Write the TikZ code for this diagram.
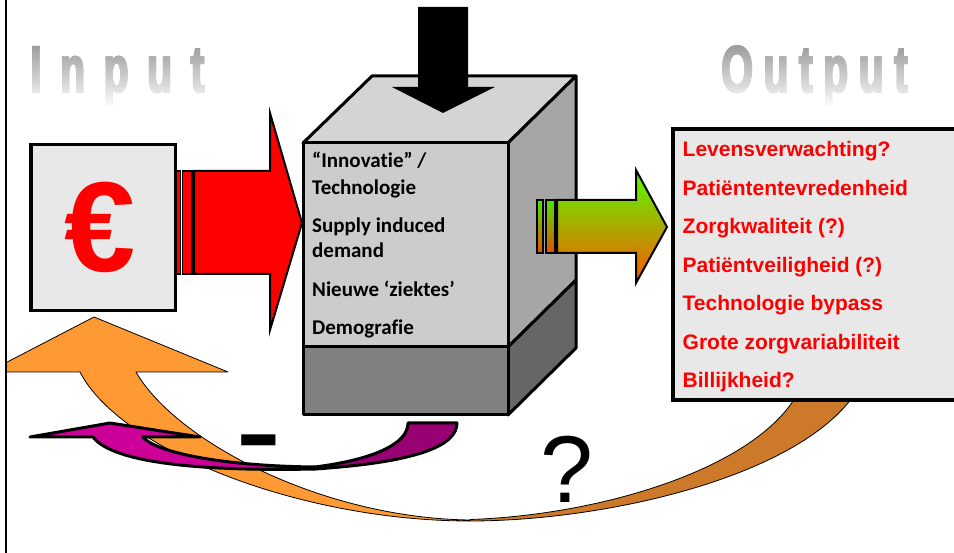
\documentclass[tikz,border=0pt]{standalone}
\usepackage{fontspec}
\setmainfont{Liberation Sans}
\newfontfamily\carlito{Carlito}[Ligatures=NoCommon]
\newfontfamily\wafont{Liberation Sans}[FakeStretch=0.62, FakeBold=2.5]
\definecolor{boxgray}{HTML}{E8E8E8}
\definecolor{topface}{HTML}{D4D4D4}
\definecolor{frontup}{HTML}{CCCCCC}
\definecolor{rightup}{HTML}{A6A6A6}
\definecolor{frontlow}{HTML}{808080}
\definecolor{rightlow}{HTML}{666666}
\definecolor{orangeL}{HTML}{FF9933}
\definecolor{orangeR}{HTML}{CC7A29}
\definecolor{magL}{HTML}{CC0099}
\definecolor{magR}{HTML}{990073}
\definecolor{arrgreen}{HTML}{55FF00}
\definecolor{arrorange}{HTML}{FF5500}
\begin{document}
\begin{tikzpicture}[x=1pt,y=-1pt,
  box/.style={draw=black, line width=3.5pt, fill=boxgray},
  cube/.style={draw=black, line width=3pt, line join=round},
  arrowline/.style={draw=black, line width=2pt, line join=miter},
  stripe/.style={draw=black, line width=1.4pt},
  ribbon/.style={draw=black, line width=0.8pt, line join=round},
  purpleline/.style={draw=black, line width=3pt, line join=round},
  wordart/.style={anchor=base west, inner sep=0pt, font=\wafont\bfseries\fontsize{66}{66}\selectfont},
  cubetext/.style={anchor=base west, inner sep=0pt, font=\carlito\bfseries\fontsize{21}{26}\selectfont},
  outtext/.style={anchor=base west, inner sep=0pt, text=red, font=\bfseries\fontsize{21}{26}\selectfont}]
\useasboundingbox (0,0) rectangle (954,553);
\begin{scope}
\clip (7,0) rectangle (954,553);
% gradient words
\foreach \i in {0,...,34}{
  \pgfmathsetmacro\ya{42+2*\i}
  \pgfmathsetmacro\yb{\ya+2.4}
  \pgfmathsetmacro\k{max(2,40-0.62*(\ya+1-45))}
  \begin{scope}
    \clip (0,\ya) rectangle (954,\yb);
    \node[wordart,text=black!\k] (in\i) at (30,92) {I\kern18.5pt n\kern18.5pt p\kern18.5pt u\kern18.5pt t};
    \node[wordart,text=black!\k] (out\i) at (721,92) {O\kern10.5pt u\kern10.5pt t\kern10.5pt p\kern10.5pt u\kern10.5pt t};
  \end{scope}
}
% orange ribbon, back part
\path[ribbon, fill=orangeR] (470,521) .. controls (600,521) and (790,480) .. (852,398) -- (795,398) .. controls (750,470) and (600,515) .. (470,519.5) -- cycle;
% output box
\filldraw[box, line width=4pt] (673,129.5) rectangle (960,400);
\node[outtext] (o1) at (682.5,157) {Levensverwachting?};
\node[outtext] (o2) at (682.5,195.5) {Patiëntentevredenheid};
\node[outtext] (o3) at (682.5,234) {Zorgkwaliteit (?)};
\node[outtext] (o4) at (682.5,272.5) {Patiëntveiligheid (?)};
\node[outtext] (o5) at (682.5,311) {Technologie bypass};
\node[outtext] (o6) at (682.5,349.5) {Grote zorgvariabiliteit};
\node[outtext] (o7) at (682.5,388) {Billijkheid?};
% cube
\path[cube, fill=topface] (303,143) -- (372,76) -- (576,76) -- (508,143) -- cycle;
\path[cube, fill=rightup] (508,143) -- (576,76) -- (576,280) -- (508,347) -- cycle;
\path[cube, fill=rightlow] (508,347) -- (576,280) -- (576,348) -- (508,415) -- cycle;
\path[cube, fill=frontup] (303,143) rectangle (508,347);
\path[cube, fill=frontlow] (303,347) rectangle (508,415);
\node[cubetext] (c1) at (312,168) {“Innovatie” /};
\node[cubetext] (c2) at (312,195) {Technologie};
\node[cubetext] (c3) at (312,233) {Supply induced};
\node[cubetext] (c4) at (312,258) {demand};
\node[cubetext] (c5) at (312,297) {Nieuwe ‘ziektes’};
\node[cubetext] (c6) at (312,335) {Demografie};
% black arrow
\fill[black] (418,7) -- (468,7) -- (468,87) -- (495,87) -- (443,113) -- (392,87) -- (418,87) -- cycle;
% euro box and red arrow
\filldraw[box] (31,144.5) rectangle (175.5,310.5);
\node[font=\fontsize{128}{128}\selectfont\bfseries, text=red, inner sep=0pt] (euro) at (100,227) {€};
\path[stripe, fill=red] (176.5,171) rectangle (180.5,274);
\path[stripe, fill=red] (182.5,171) rectangle (192,274);
\path[arrowline, fill=red] (194,171) -- (270,171) -- (270,113) -- (302,223) -- (270,330) -- (270,274) -- (194,274) -- cycle;
% green arrow
\path[stripe, top color=arrgreen!90!black, bottom color=arrorange!90!black] (537,200) rectangle (543,253);
\path[stripe, top color=arrgreen!90!black, bottom color=arrorange!90!black] (546,200) rectangle (555,253);
\path[arrowline, top color=arrgreen, bottom color=arrorange] (557,200) -- (636,200) -- (636,170) -- (667,227) -- (636,283) -- (636,253) -- (557,253) -- cycle;
% orange ribbon, front part
\path[ribbon, fill=orangeL] (-12,372) -- (94,317) -- (228,372) -- (136,372) .. controls (175,440) and (320,518) .. (470,520) -- (470,521) .. controls (300,521) and (120,450) .. (80,372) -- cycle;
% purple ribbon
\path[purpleline, fill=magR] (408,423) -- (457,423) .. controls (457,445) and (420,462) .. (315,469) -- (315,467) .. controls (370,460) and (408,445) .. (408,423) -- cycle;
\path[purpleline, fill=magL] (30,437) -- (110,423) -- (200,437) -- (143,437) .. controls (155,452) and (220,466) .. (315,467) -- (315,469) .. controls (220,471) and (115,466) .. (93,437) -- cycle;
% signs
\node[font=\fontsize{140}{140}\selectfont, anchor=base west, inner sep=0pt] (minus) at (235,477) {-};
\node[font=\fontsize{95}{95}\selectfont, anchor=base, inner sep=0pt] (q) at (566.5,502) {?};
\end{scope}
\draw[line width=2.5pt] (6,0) -- (6,553);
\end{tikzpicture}
\end{document}
